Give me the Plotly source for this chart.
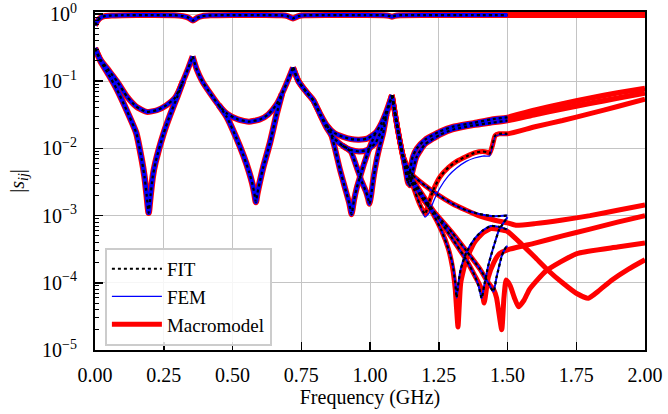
import plotly.graph_objects as go

# ---------------- data ----------------
# transmission-like band, close to 1
f_t = [0.0, 0.01, 0.02, 0.035, 0.06, 0.1, 0.2, 0.29, 0.32, 0.34, 0.356, 0.372, 0.39, 0.42, 0.5, 0.62,
       0.68, 0.70, 0.72, 0.74, 0.76, 0.85, 0.98, 1.05, 1.07, 1.08, 1.09, 1.11, 1.2, 1.35, 1.5, 1.75, 2.0]
s_t = [0.68, 0.8, 0.88, 0.93, 0.95, 0.96, 0.965, 0.96, 0.93, 0.88, 0.8, 0.88, 0.93, 0.955, 0.965, 0.965,
       0.955, 0.93, 0.86, 0.93, 0.955, 0.965, 0.965, 0.96, 0.94, 0.91, 0.94, 0.96, 0.965, 0.965, 0.965, 0.965, 0.965]

# reflection-like curves, 0 .. 0.355 GHz
f_a_up = [0.0, 0.02, 0.05, 0.08, 0.115, 0.15, 0.188, 0.225, 0.26, 0.29, 0.305, 0.32, 0.34, 0.355]
s_a_up = [0.31, 0.21, 0.145, 0.1, 0.06, 0.042, 0.035, 0.037, 0.044, 0.056, 0.072, 0.1, 0.16, 0.235]
f_a_lo = [0.0, 0.02, 0.05, 0.08, 0.115, 0.15, 0.17, 0.18, 0.188, 0.195, 0.202, 0.21, 0.22, 0.25, 0.275, 0.3, 0.32]
s_a_lo = [0.31, 0.2, 0.125, 0.075, 0.037, 0.017, 0.0068, 0.0038, 0.002, 0.0011, 0.002, 0.0038, 0.0062, 0.017,
          0.033, 0.06, 0.1]

# 0.355 .. 0.72 GHz
f_b_up = [0.355, 0.37, 0.39, 0.42, 0.45, 0.48, 0.52, 0.56, 0.6, 0.63, 0.66, 0.68, 0.7, 0.72]
s_b_up = [0.235, 0.15, 0.1, 0.065, 0.044, 0.033, 0.027, 0.025, 0.027, 0.032, 0.045, 0.065, 0.1, 0.16]
f_b_lo = [0.45, 0.48, 0.515, 0.54, 0.56, 0.572, 0.58, 0.585, 0.59, 0.598, 0.612, 0.636, 0.661, 0.68]
s_b_lo = [0.044, 0.029, 0.014, 0.0078, 0.0045, 0.003, 0.0021, 0.0016, 0.0021, 0.003, 0.0053, 0.012, 0.033, 0.065]

# 0.72 .. 1.08 GHz
f_c_up = [0.72, 0.74, 0.77, 0.794, 0.82, 0.843, 0.87, 0.9, 0.93, 0.96, 0.99, 1.02, 1.04, 1.06, 1.08]
s_c_up1 = [0.16, 0.1, 0.068, 0.052, 0.032, 0.022, 0.017, 0.015, 0.0138, 0.0135, 0.014, 0.017, 0.023, 0.036, 0.062]
s_c_up2 = [0.16, 0.1, 0.068, 0.052, 0.031, 0.02, 0.014, 0.011, 0.0095, 0.009, 0.0095, 0.012, 0.018, 0.032, 0.062]
f_c_lo1 = [0.843, 0.855, 0.87, 0.891, 0.91, 0.925, 0.933, 0.942, 0.952, 0.964, 0.98, 1.0, 1.02]
s_c_lo1 = [0.022, 0.018, 0.011, 0.0048, 0.0025, 0.0015, 0.00105, 0.0017, 0.0026, 0.0038, 0.0062, 0.0106, 0.017]
f_c_lo2 = [0.9, 0.93, 0.95, 0.97, 0.985, 0.993, 0.998, 1.004, 1.012, 1.024, 1.036, 1.048, 1.06]
s_c_lo2 = [0.011, 0.009, 0.0055, 0.0032, 0.0023, 0.0018, 0.0015, 0.002, 0.0035, 0.0067, 0.011, 0.017, 0.032]

# above 1.08 GHz
f_d1 = [1.08, 1.09, 1.1, 1.11, 1.12, 1.13, 1.138, 1.145, 1.155, 1.17, 1.2, 1.255, 1.3, 1.376, 1.44, 1.5,
        1.6, 1.7, 1.8, 1.9, 2.0]
s_d1a = [0.062, 0.035, 0.02, 0.012, 0.0075, 0.0045, 0.003, 0.0045, 0.0075, 0.01, 0.0135, 0.018, 0.021, 0.024,
         0.027, 0.029, 0.037, 0.046, 0.056, 0.067, 0.078]
s_d1b = [0.062, 0.035, 0.02, 0.012, 0.0075, 0.0048, 0.0035, 0.0028, 0.0045, 0.0075, 0.0115, 0.016, 0.019, 0.022,
         0.024, 0.026, 0.032, 0.039, 0.047, 0.056, 0.067]

f_d2 = [1.08, 1.09, 1.1, 1.11, 1.12, 1.14, 1.16, 1.18, 1.2, 1.215, 1.23, 1.255, 1.285, 1.315, 1.35, 1.38, 1.41,
        1.425, 1.435, 1.445, 1.455, 1.47, 1.5, 1.6, 1.7, 1.8, 1.9, 2.0]
s_d2 = [0.062, 0.035, 0.02, 0.012, 0.0075, 0.0042, 0.0025, 0.0015, 0.00105, 0.0016, 0.0024, 0.0038, 0.0052,
        0.0064, 0.0076, 0.0086, 0.009, 0.0088, 0.0084, 0.011, 0.0155, 0.0165, 0.0165, 0.021, 0.026, 0.033, 0.042, 0.054]
s_d2_fem = [0.062, 0.035, 0.02, 0.012, 0.0075, 0.0042, 0.0025, 0.0015, 0.00095, 0.0011, 0.0016, 0.0026, 0.0039,
            0.0051, 0.0064, 0.0072, 0.0077, 0.0077, 0.0077, 0.0105, 0.015, 0.016, 0.016]

f_d3 = [1.08, 1.09, 1.1, 1.11, 1.12, 1.135, 1.15, 1.17, 1.2, 1.23, 1.26, 1.285, 1.3, 1.31, 1.315, 1.32, 1.33,
        1.35, 1.38, 1.41, 1.44, 1.47, 1.5]
s_d3_fit = [0.062, 0.035, 0.02, 0.012, 0.0078, 0.0048, 0.0035, 0.0025, 0.0016, 0.00105, 0.0006, 0.00032, 0.00019,
            0.0001, 6e-5, 9e-5, 0.00016, 0.00028, 0.00045, 0.0006, 0.0007, 0.00068, 0.00062]
f_d3_mm = [1.08, 1.09, 1.1, 1.11, 1.12, 1.135, 1.15, 1.17, 1.2, 1.23, 1.26, 1.285, 1.3, 1.31, 1.315, 1.32, 1.33,
           1.35, 1.38, 1.41, 1.44, 1.47, 1.5, 1.55, 1.6, 1.65, 1.7, 1.75, 1.794, 1.83, 1.88, 1.94, 2.0]
s_d3_mm = [0.062, 0.035, 0.02, 0.012, 0.0078, 0.0048, 0.0035, 0.0025, 0.0016, 0.00105, 0.0006, 0.00032, 0.00017,
           8e-5, 4e-5, 2.2e-5, 0.0001, 0.00022, 0.0004, 0.00055, 0.00064, 0.00062, 0.00058, 0.00038, 0.00024,
           0.00015, 0.0001, 7e-5, 5.9e-5, 7.5e-5, 0.00011, 0.00016, 0.00022]

f_d4 = [1.08, 1.09, 1.1, 1.11, 1.12, 1.14, 1.17, 1.2, 1.25, 1.3, 1.35, 1.38, 1.395, 1.406, 1.415, 1.43, 1.45, 1.47, 1.5]
s_d4_fit = [0.062, 0.035, 0.02, 0.012, 0.0078, 0.0045, 0.0028, 0.0018, 0.0009, 0.00045, 0.00022, 0.00013, 9e-5,
            5.9e-5, 9e-5, 0.00018, 0.00035, 0.00062, 0.00095]
f_d4_mm = [1.08, 1.09, 1.1, 1.11, 1.12, 1.14, 1.17, 1.2, 1.25, 1.3, 1.35, 1.38, 1.395, 1.406, 1.415, 1.43, 1.45,
           1.47, 1.5, 1.6, 1.7, 1.8, 1.9, 2.0]
s_d4_mm = [0.062, 0.035, 0.02, 0.012, 0.0078, 0.0045, 0.0028, 0.0018, 0.0009, 0.00045, 0.00022, 0.00013, 0.0001,
           8e-5, 5e-5, 0.00012, 0.0002, 0.00027, 0.00031, 0.00039, 0.0005, 0.00063, 0.0008, 0.001]

f_d5 = [1.08, 1.09, 1.1, 1.11, 1.12, 1.14, 1.17, 1.2, 1.25, 1.3, 1.35, 1.4, 1.43, 1.449, 1.46, 1.479, 1.487, 1.495, 1.5]
s_d5_fit = [0.062, 0.035, 0.02, 0.012, 0.0078, 0.004, 0.0024, 0.0016, 0.00095, 0.00055, 0.0003, 0.00016, 0.0001,
            7.4e-5, 0.00012, 0.00025, 0.0003, 0.00034, 0.00035]
f_d5_mm = [1.08, 1.09, 1.1, 1.11, 1.12, 1.14, 1.17, 1.2, 1.25, 1.3, 1.35, 1.4, 1.43, 1.449, 1.46, 1.479, 1.487,
           1.495, 1.51, 1.525, 1.54, 1.56, 1.58, 1.64, 1.75, 1.9, 2.0]
s_d5_mm = [0.062, 0.035, 0.02, 0.012, 0.0078, 0.004, 0.0024, 0.0016, 0.00095, 0.00055, 0.0003, 0.00016, 0.0001,
           8e-5, 6e-5, 2e-5, 6e-5, 0.00011, 9e-5, 6e-5, 4.4e-5, 5.5e-5, 8e-5, 0.00015, 0.00027, 0.00034, 0.00039]

f_d6 = [1.08, 1.09, 1.1, 1.11, 1.12, 1.15, 1.2, 1.25, 1.3, 1.35, 1.4, 1.45, 1.5]
s_d6_fit = [0.062, 0.035, 0.02, 0.012, 0.0078, 0.0042, 0.0028, 0.002, 0.0015, 0.0012, 0.00105, 0.00098, 0.001]
f_d6_mm = [1.08, 1.09, 1.1, 1.11, 1.12, 1.15, 1.2, 1.25, 1.3, 1.35, 1.4, 1.45, 1.5, 1.53, 1.6, 1.7, 1.8, 1.9, 2.0]
s_d6_mm = [0.062, 0.035, 0.02, 0.012, 0.0078, 0.0042, 0.0028, 0.002, 0.0015, 0.0012, 0.00098, 0.00086, 0.00078,
           0.00072, 0.00076, 0.00086, 0.001, 0.0012, 0.00144]

x_ticks = [0.0, 0.25, 0.5, 0.75, 1.0, 1.25, 1.5, 1.75, 2.0]
x_tick_labels = ["0.00", "0.25", "0.50", "0.75", "1.00", "1.25", "1.50", "1.75", "2.00"]
y_ticks = [1e-5, 1e-4, 1e-3, 1e-2, 1e-1, 1.0]
y_tick_labels = ["10<sup>\u22125</sup>", "10<sup>\u22124</sup>", "10<sup>\u22123</sup>",
                 "10<sup>\u22122</sup>", "10<sup>\u22121</sup>", "10<sup>0</sup>"]

# (freq macromodel, macromodel, freq FIT/FEM, FIT, FEM, red width, FEM line width)
curves = [
    (f_t, s_t, f_t, s_t, s_t, 6, 4),
    (f_a_up, s_a_up, f_a_up, s_a_up, s_a_up, 6, 4),
    (f_a_lo, s_a_lo, f_a_lo, s_a_lo, s_a_lo, 6.5, 4.5),
    (f_b_up, s_b_up, f_b_up, s_b_up, s_b_up, 6, 4),
    (f_b_lo, s_b_lo, f_b_lo, s_b_lo, s_b_lo, 6.5, 4.5),
    (f_c_up, s_c_up1, f_c_up, s_c_up1, s_c_up1, 6, 4),
    (f_c_up, s_c_up2, f_c_up, s_c_up2, s_c_up2, 6, 4),
    (f_c_lo1, s_c_lo1, f_c_lo1, s_c_lo1, s_c_lo1, 6, 4),
    (f_c_lo2, s_c_lo2, f_c_lo2, s_c_lo2, s_c_lo2, 6, 4),
    (f_d1, s_d1a, f_d1, s_d1a, s_d1a, 5.5, 3.5),
    (f_d1, s_d1b, f_d1, s_d1b, s_d1b, 5.5, 3.5),
    (f_d2, s_d2, f_d2, s_d2, s_d2_fem, 5, 1.3),
    (f_d3_mm, s_d3_mm, f_d3, s_d3_fit, s_d3_fit, 5, 2),
    (f_d4_mm, s_d4_mm, f_d4, s_d4_fit, s_d4_fit, 5, 2),
    (f_d5_mm, s_d5_mm, f_d5, s_d5_fit, s_d5_fit, 5, 2),
    (f_d6_mm, s_d6_mm, f_d6, s_d6_fit, s_d6_fit, 5, 2),
]


def upto(f, s, fmax=1.5):
    fx = [v for v in f if v <= fmax + 1e-9]
    n = min(len(fx), len(s))
    return fx[:n], s[:n]


RED = "rgb(255,0,0)"
BLUE = "rgb(0,0,255)"
DOT = "3px,3px"
SHAPE = dict(shape="spline", smoothing=0.5)

fig = go.Figure()
for fm, sm, ff, sfit, sfem, wr, wb in curves:
    fig.add_trace(go.Scatter(x=fm, y=sm, mode="lines", line=dict(color=RED, width=wr, **SHAPE),
                             showlegend=False, hoverinfo="skip"))
for fm, sm, ff, sfit, sfem, wr, wb in curves:
    x, y = upto(ff, sfem)
    fig.add_trace(go.Scatter(x=x, y=y, mode="lines", line=dict(color=BLUE, width=wb, **SHAPE),
                             showlegend=False, hoverinfo="skip"))
for fm, sm, ff, sfit, sfem, wr, wb in curves:
    x, y = upto(ff, sfit)
    fig.add_trace(go.Scatter(x=x, y=y, mode="lines",
                             line=dict(color="black", width=2.2, dash=DOT, **SHAPE),
                             showlegend=False, hoverinfo="skip"))

# legend entries
fig.add_trace(go.Scatter(x=[None], y=[None], mode="lines", name="FIT",
                         line=dict(color="black", width=2.2, dash=DOT)))
fig.add_trace(go.Scatter(x=[None], y=[None], mode="lines", name="FEM",
                         line=dict(color=BLUE, width=1.3)))
fig.add_trace(go.Scatter(x=[None], y=[None], mode="lines", name="Macromodel",
                         line=dict(color=RED, width=5)))

FONT = "Liberation Serif, DejaVu Serif, serif"
fig.update_layout(
    template="none",
    width=668, height=414,
    margin=dict(l=95, r=23, t=12, b=64, autoexpand=False),
    paper_bgcolor="white", plot_bgcolor="white",
    font=dict(family=FONT, size=20, color="black"),
    showlegend=True,
    hovermode=False,
    legend=dict(x=0.018, y=0.302, xanchor="left", yanchor="top",
                bgcolor="rgba(255,255,255,0.85)", bordercolor="#cccccc", borderwidth=2,
                font=dict(family=FONT, size=19, color="black"), tracegroupgap=0,
                itemwidth=50),
)
fig.update_xaxes(
    automargin=False,
    range=[0, 2], tickmode="array", tickvals=x_ticks, ticktext=x_tick_labels,
    tickfont=dict(family=FONT, size=20, color="black"),
    ticks="inside", ticklen=8, tickwidth=1.5, tickcolor="black",
    showline=True, linewidth=2, linecolor="black", mirror=True,
    showgrid=True, gridcolor="#c4c4c4", gridwidth=1, zeroline=False,
    ticklabelstandoff=6,
    title=dict(text="Frequency (GHz)", standoff=4, font=dict(family=FONT, size=20, color="black")),
)
minor_vals = [k * 10.0 ** e for e in range(-5, 0) for k in range(2, 10)]
fig.update_yaxes(
    automargin=False,
    type="log", range=[-5, 0.03], tickmode="array", tickvals=y_ticks, ticktext=y_tick_labels,
    tickfont=dict(family=FONT, size=20, color="black"),
    ticks="inside", ticklen=8, tickwidth=1.5, tickcolor="black",
    minor=dict(tickmode="array", tickvals=minor_vals, ticks="inside", ticklen=4, tickwidth=1,
               tickcolor="black", showgrid=False),
    showline=True, linewidth=2, linecolor="black", mirror=True,
    showgrid=True, gridcolor="#c4c4c4", gridwidth=1, zeroline=False,
    ticklabelstandoff=12,
    title=dict(text="|<i>s</i><sub><i>ij</i></sub>|", standoff=12,
               font=dict(family=FONT, size=20, color="black")),
)

fig.write_html("out.html", config={"displayModeBar": False, "staticPlot": True},
               post_script="document.body.style.margin='0px';")
